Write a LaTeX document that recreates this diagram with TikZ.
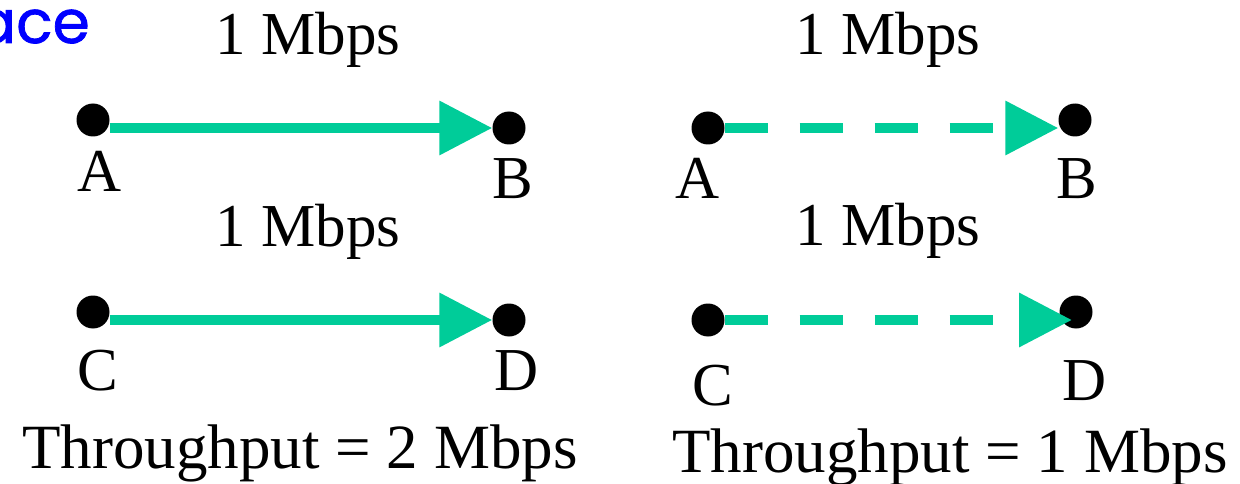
\documentclass[tikz,border=0pt]{standalone}
\usepackage{fontspec}
\setmainfont{Liberation Serif}
\newfontfamily\handfont[FakeBold=1.2]{Poppins}
\usetikzlibrary{arrows.meta, positioning}

\definecolor{linkgreen}{RGB}{0,204,153}
\definecolor{headblue}{RGB}{0,0,255}

\tikzset{
  dot/.style={circle, fill=black, inner sep=0pt, minimum size=33pt},
  tag/.style={font=\fontsize{61}{61}\selectfont, inner sep=0pt, anchor=base},
  total/.style={font=\fontsize{63}{63}\selectfont, inner sep=0pt, anchor=base},
  link/.style={line width=10pt, linkgreen, -{Triangle[length=53pt, width=52pt]}},
  slowlink/.style={link, dash pattern=on 43pt off 32pt},
}

\begin{document}
\begin{tikzpicture}[x=1pt, y=-1pt]
    \useasboundingbox (0,0) rectangle (1240,484);

    % Heading, cut by the left edge
    \node[font=\handfont\fontsize{60}{60}\selectfont, text=headblue, anchor=base east, inner sep=0pt] (head) at (90,43) {ace};

    % Left: the two transfers run side by side
    \node[dot] (A1) at (93,120) {};
    \node[dot] (B1) at (509,128) {};
    \node[dot] (C1) at (93,312) {};
    \node[dot] (D1) at (509,320) {};
    \draw[link] (A1.east |- B1.center) -- (B1.west);
    \draw[link] (C1.east |- D1.center) -- (D1.west);
    \node[tag] (ab1) at (308,55) {1 Mbps};
    \node[tag] (cd1) at (308,246) {1 Mbps};
    \node[tag] (a1) at (100,192) {A};
    \node[tag] (b1) at (513,198) {B};
    \node[tag] (c1) at (98,390) {C};
    \node[tag] (d1) at (517,390) {D};
    \node[total] (sum1) at (300,468) {Throughput = 2 Mbps};

    % Right: the two transfers have to take turns
    \node[dot] (A2) at (708,128) {};
    \node[dot] (B2) at (1075,120) {};
    \node[dot] (C2) at (708,320) {};
    \node[dot] (D2) at (1076,312) {};
    \draw[slowlink] (A2.east) -- (A2.east -| B2.west);
    \draw[slowlink, shorten >=4pt] (C2.east) -- (C2.east -| D2.center);
    \node[tag] (ab2) at (888,55) {1 Mbps};
    \node[tag] (cd2) at (888,245) {1 Mbps};
    \node[tag] (a2) at (698,198) {A};
    \node[tag] (b2) at (1077,198) {B};
    \node[tag] (c2) at (713,405) {C};
    \node[tag] (d2) at (1085,400) {D};
    \node[total] (sum2) at (950,472) {Throughput = 1 Mbps};
\end{tikzpicture}
\end{document}
